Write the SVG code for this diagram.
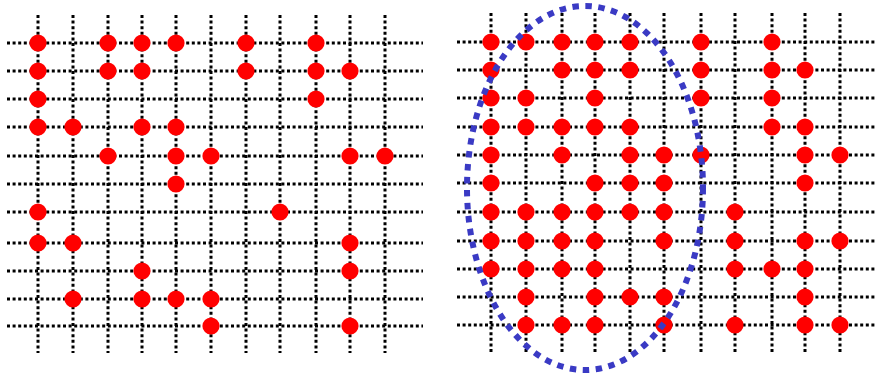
<svg xmlns="http://www.w3.org/2000/svg" width="875" height="379" viewBox="0 0 875 379">
<defs>
<style>
.grid{fill:none;stroke:#000;stroke-width:3;stroke-dasharray:3 2.6}
.dot{fill:#f00}
.ring{fill:none;stroke:#3a3ac4;stroke-width:6;stroke-dasharray:6.5 6.5}
</style>
<circle id="d" r="8.6" class="dot"/>
</defs>
<rect width="875" height="379" fill="#fff"/>
<g id="left-grid">
<path class="grid" d="M7 43H423M7 71H423M7 99H423M7 127H423M7 156H423M7 184H423M7 212H423M7 243H423M7 271H423M7 299H423M7 326H423"/>
<path class="grid" d="M38 15V353M73 15V353M108 15V353M142 15V353M176 15V353M211 15V353M246 15V353M280 15V353M316 15V353M350 15V353M385 15V353"/>
</g>
<g id="left-dots">
<use href="#d" x="38" y="43"/><use href="#d" x="108" y="43"/><use href="#d" x="142" y="43"/><use href="#d" x="176" y="43"/><use href="#d" x="246" y="43"/><use href="#d" x="316" y="43"/>
<use href="#d" x="38" y="71"/><use href="#d" x="108" y="71"/><use href="#d" x="142" y="71"/><use href="#d" x="246" y="71"/><use href="#d" x="316" y="71"/><use href="#d" x="350" y="71"/>
<use href="#d" x="38" y="99"/><use href="#d" x="316" y="99"/>
<use href="#d" x="38" y="127"/><use href="#d" x="73" y="127"/><use href="#d" x="142" y="127"/><use href="#d" x="176" y="127"/>
<use href="#d" x="108" y="156"/><use href="#d" x="176" y="156"/><use href="#d" x="211" y="156"/><use href="#d" x="350" y="156"/><use href="#d" x="385" y="156"/>
<use href="#d" x="176" y="184"/>
<use href="#d" x="38" y="212"/><use href="#d" x="280" y="212"/>
<use href="#d" x="38" y="243"/><use href="#d" x="73" y="243"/><use href="#d" x="350" y="243"/>
<use href="#d" x="142" y="271"/><use href="#d" x="350" y="271"/>
<use href="#d" x="73" y="299"/><use href="#d" x="142" y="299"/><use href="#d" x="176" y="299"/><use href="#d" x="211" y="299"/>
<use href="#d" x="211" y="326"/><use href="#d" x="350" y="326"/>
</g>
<g id="right-grid">
<path class="grid" d="M457 42H875M457 70H875M457 98H875M457 127H875M457 155H875M457 183H875M457 212H875M457 241H875M457 269H875M457 297H875M457 325H875"/>
<path class="grid" d="M491 13V352M526 13V352M562 13V352M595 13V352M630 13V352M664 13V352M701 13V352M735 13V352M772 13V352M805 13V352M840 13V352"/>
</g>
<g id="right-dots">
<use href="#d" x="491" y="42"/><use href="#d" x="526" y="42"/><use href="#d" x="562" y="42"/><use href="#d" x="595" y="42"/><use href="#d" x="630" y="42"/><use href="#d" x="701" y="42"/><use href="#d" x="772" y="42"/>
<use href="#d" x="491" y="70"/><use href="#d" x="562" y="70"/><use href="#d" x="595" y="70"/><use href="#d" x="630" y="70"/><use href="#d" x="701" y="70"/><use href="#d" x="772" y="70"/><use href="#d" x="805" y="70"/>
<use href="#d" x="491" y="98"/><use href="#d" x="526" y="98"/><use href="#d" x="595" y="98"/><use href="#d" x="701" y="98"/><use href="#d" x="772" y="98"/>
<use href="#d" x="491" y="127"/><use href="#d" x="526" y="127"/><use href="#d" x="562" y="127"/><use href="#d" x="595" y="127"/><use href="#d" x="630" y="127"/><use href="#d" x="772" y="127"/><use href="#d" x="805" y="127"/>
<use href="#d" x="491" y="155"/><use href="#d" x="562" y="155"/><use href="#d" x="630" y="155"/><use href="#d" x="664" y="155"/><use href="#d" x="701" y="155"/><use href="#d" x="805" y="155"/><use href="#d" x="840" y="155"/>
<use href="#d" x="491" y="183"/><use href="#d" x="595" y="183"/><use href="#d" x="630" y="183"/><use href="#d" x="664" y="183"/><use href="#d" x="805" y="183"/>
<use href="#d" x="491" y="212"/><use href="#d" x="526" y="212"/><use href="#d" x="562" y="212"/><use href="#d" x="595" y="212"/><use href="#d" x="630" y="212"/><use href="#d" x="664" y="212"/><use href="#d" x="735" y="212"/>
<use href="#d" x="491" y="241"/><use href="#d" x="526" y="241"/><use href="#d" x="562" y="241"/><use href="#d" x="595" y="241"/><use href="#d" x="664" y="241"/><use href="#d" x="735" y="241"/><use href="#d" x="805" y="241"/><use href="#d" x="840" y="241"/>
<use href="#d" x="491" y="269"/><use href="#d" x="526" y="269"/><use href="#d" x="562" y="269"/><use href="#d" x="595" y="269"/><use href="#d" x="735" y="269"/><use href="#d" x="772" y="269"/><use href="#d" x="805" y="269"/>
<use href="#d" x="526" y="297"/><use href="#d" x="595" y="297"/><use href="#d" x="630" y="297"/><use href="#d" x="664" y="297"/><use href="#d" x="805" y="297"/>
<use href="#d" x="526" y="325"/><use href="#d" x="562" y="325"/><use href="#d" x="595" y="325"/><use href="#d" x="664" y="325"/><use href="#d" x="735" y="325"/><use href="#d" x="805" y="325"/><use href="#d" x="840" y="325"/>
</g>
<g id="cluster">
<ellipse class="ring" cx="585" cy="188" rx="118" ry="182"/>
</g>
</svg>
